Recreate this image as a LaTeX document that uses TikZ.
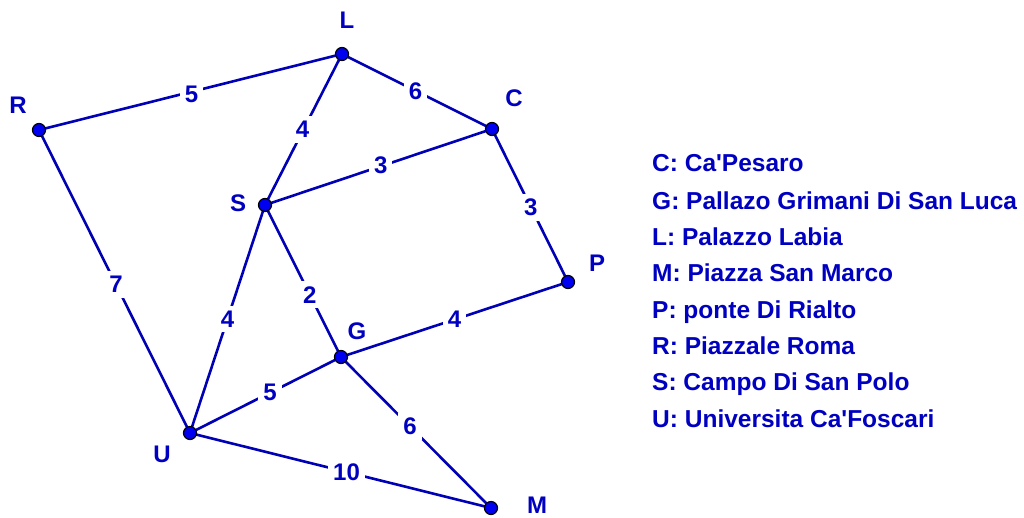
\documentclass[tikz,border=0pt]{standalone}
\usepackage{fontspec}
\setmainfont{Liberation Sans}
\definecolor{txt}{HTML}{0000C0}
\definecolor{edge}{HTML}{0000B4}
\definecolor{dotfill}{HTML}{0000F0}
\begin{document}
\begin{tikzpicture}[x=1pt,y=-1pt,
  vtx/.style={circle,draw=black,fill=dotfill,line width=1.2pt,minimum size=13pt,inner sep=0pt},
  lbl/.style={text=txt,font=\fontsize{24}{28}\selectfont\bfseries},
  wt/.style={text=txt,font=\fontsize{24}{28}\selectfont\bfseries,fill=white,inner sep=5pt},
  con/.style={draw=edge,line width=2.6pt},
  leg/.style={text=txt,font=\fontsize{24.5}{28}\selectfont\bfseries,anchor=base west,inner sep=0pt}]
\useasboundingbox (0,0) rectangle (1024,517);
\coordinate (L) at (342,54);
\coordinate (R) at (39,130);
\coordinate (C) at (492,129);
\coordinate (S) at (265,205);
\coordinate (P) at (568,282);
\coordinate (G) at (341,357);
\coordinate (U) at (190,433);
\coordinate (M) at (491,508);
\draw[con] (R) -- node[wt,pos=0.5,xshift=1pt,yshift=-2pt] {5} (L);
\draw[con] (L) -- node[wt,pos=0.49] {6} (C);
\draw[con] (L) -- node[wt,pos=0.5,xshift=-1pt] {4} (S);
\draw[con] (S) -- node[wt,pos=0.51,yshift=1pt] {3} (C);
\draw[con] (C) -- node[wt,pos=0.51] {3} (P);
\draw[con] (S) -- node[wt,pos=0.59] {2} (G);
\draw[con] (R) -- node[wt,pos=0.51] {7} (U);
\draw[con] (S) -- node[wt,pos=0.5] {4} (U);
\draw[con] (G) -- node[wt,pos=0.5] {4} (P);
\draw[con] (U) -- node[wt,pos=0.53] {5} (G);
\draw[con] (G) -- node[wt,pos=0.46] {6} (M);
\draw[con] (U) -- node[wt,pos=0.52] {10} (M);
\foreach \v in {L,R,C,S,P,G,U,M} \node[vtx] (n\v) at (\v) {};
\node[lbl] (tL) at (347,20) {L};
\node[lbl] (tR) at (18,105) {R};
\node[lbl] (tC) at (514,98) {C};
\node[lbl] (tS) at (238,203) {S};
\node[lbl] (tP) at (597,263) {P};
\node[lbl] (tG) at (357,331) {G};
\node[lbl] (tU) at (162,454) {U};
\node[lbl] (tM) at (537,505) {M};
\node[leg] (l1) at (652,171) {C: Ca\textquotesingle Pesaro};
\node[leg] (l2) at (652,209) {G: Pallazo Grimani Di San Luca};
\node[leg] (l3) at (652,245) {L: Palazzo Labia};
\node[leg] (l4) at (652,281) {M: Piazza San Marco};
\node[leg] (l5) at (652,318) {P: ponte Di Rialto};
\node[leg] (l6) at (652,354) {R: Piazzale Roma};
\node[leg] (l7) at (652,390) {S: Campo Di San Polo};
\node[leg] (l8) at (652,427) {U: Universita Ca\textquotesingle Foscari};
\end{tikzpicture}
\end{document}
